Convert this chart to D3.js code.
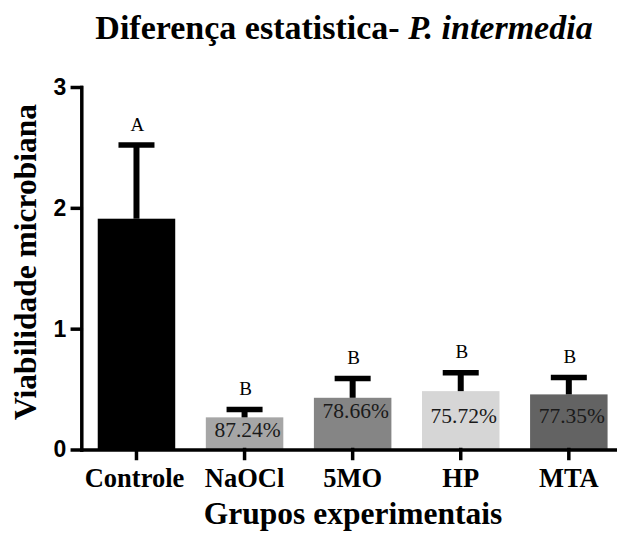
<!DOCTYPE html>
<html>
<head>
<meta charset="utf-8">
<script src="https://cdn.jsdelivr.net/npm/d3@7"></script>
<style>
  body { margin: 0; background: #fff; }
  svg { display: block; }
</style>
</head>
<body>
<svg width="617" height="536"></svg>
<script>
// data
var groups = ["Controle", "NaOCl", "5MO", "HP", "MTA"];
var means = [1.91, 0.266, 0.428, 0.483, 0.456];
var errTop = [2.52, 0.332, 0.588, 0.636, 0.595];
var letters = ["A", "B", "B", "B", "B"];
var reduction = ["", "87.24%", "78.66%", "75.72%", "77.35%"];
var yTicks = [0, 1, 2, 3];

var colors = ["#000000", "#a6a6a6", "#858585", "#d6d6d6", "#636363"];
var pctDy = [0, 19.5, 20.5, 32, 29];

var serif = "'Liberation Serif', 'Times New Roman', serif",
    sans = "'Liberation Sans', Arial, sans-serif";

var svg = d3.select("svg");

var x = d3.scaleBand()
    .domain(groups)
    .range([81.3, 624])
    .paddingInner(0.283)
    .paddingOuter(0.152);

var y = d3.scaleLinear()
    .domain([0, 3])
    .range([449.5, 87]);

// bars
svg.selectAll("rect.bar")
  .data(groups)
  .enter().append("rect")
    .attr("class", "bar")
    .attr("x", function(d) { return x(d); })
    .attr("width", x.bandwidth())
    .attr("y", function(d, i) { return y(means[i]); })
    .attr("height", function(d, i) { return y(0) - y(means[i]); })
    .attr("fill", function(d, i) { return colors[i]; });

// error bars (upper only)
var eb = svg.selectAll("g.err")
  .data(groups)
  .enter().append("g")
    .attr("class", "err")
    .attr("transform", function(d) { return "translate(" + (x(d) + x.bandwidth() / 2) + ",0)"; });

eb.append("line")
    .attr("x1", 0).attr("x2", 0)
    .attr("y1", function(d, i) { return y(means[i]); })
    .attr("y2", function(d, i) { return y(errTop[i]); })
    .attr("stroke", "#000").attr("stroke-width", 6);

eb.append("line")
    .attr("x1", -18).attr("x2", 18)
    .attr("y1", function(d, i) { return y(errTop[i]); })
    .attr("y2", function(d, i) { return y(errTop[i]); })
    .attr("stroke", "#000").attr("stroke-width", 5.5);

// significance letters
eb.append("text")
    .attr("x", 1)
    .attr("y", function(d, i) { return y(errTop[i]) - 14.5; })
    .attr("text-anchor", "middle")
    .style("font-family", serif)
    .style("font-size", "19px")
    .text(function(d, i) { return letters[i]; });

// percent labels inside bars
eb.append("text")
    .attr("x", 3)
    .attr("y", function(d, i) { return y(means[i]) + pctDy[i]; })
    .attr("text-anchor", "middle")
    .style("font-family", serif)
    .style("font-size", "21.5px")
    .attr("fill", "#1a1a1a")
    .text(function(d, i) { return reduction[i]; });

// axes
var yAxis = svg.append("g")
    .attr("transform", "translate(81.3,0)")
    .call(d3.axisLeft(y).tickValues(yTicks).tickFormat(d3.format("d"))
      .tickSize(9).tickSizeOuter(0).tickPadding(6));

var xAxis = svg.append("g")
    .attr("transform", "translate(0," + y(0) + ")")
    .call(d3.axisBottom(x).tickSize(9).tickSizeOuter(0).tickPadding(10));

svg.selectAll(".domain, .tick line")
    .attr("stroke", "#000")
    .attr("stroke-width", 3.5)
    .attr("stroke-linecap", "square");

yAxis.selectAll(".tick text")
    .style("font-family", sans)
    .style("font-weight", "bold")
    .style("font-size", "23px")
    .attr("fill", "#000");

xAxis.selectAll(".tick text")
    .style("font-family", serif)
    .style("font-weight", "bold")
    .style("font-size", "26.5px")
    .attr("fill", "#000");

xAxis.selectAll(".tick text")
    .filter(function(d) { return d === "Controle"; })
    .attr("dx", -2);

// axis titles
svg.append("text")
    .attr("transform", "translate(36,262) rotate(-90)")
    .attr("text-anchor", "middle")
    .style("font-family", serif)
    .style("font-weight", "bold")
    .style("font-size", "31.5px")
    .text("Viabilidade microbiana");

svg.append("text")
    .attr("x", 353)
    .attr("y", 524)
    .attr("text-anchor", "middle")
    .style("font-family", serif)
    .style("font-weight", "bold")
    .style("font-size", "31.5px")
    .text("Grupos experimentais");

// title
var title = svg.append("text")
    .attr("x", 344)
    .attr("y", 38.5)
    .attr("text-anchor", "middle")
    .style("font-family", serif)
    .style("font-weight", "bold")
    .style("font-size", "34px");
title.append("tspan").text("Diferença estatistica- ");
title.append("tspan").style("font-style", "italic").text("P. intermedia");
</script>
</body>
</html>
